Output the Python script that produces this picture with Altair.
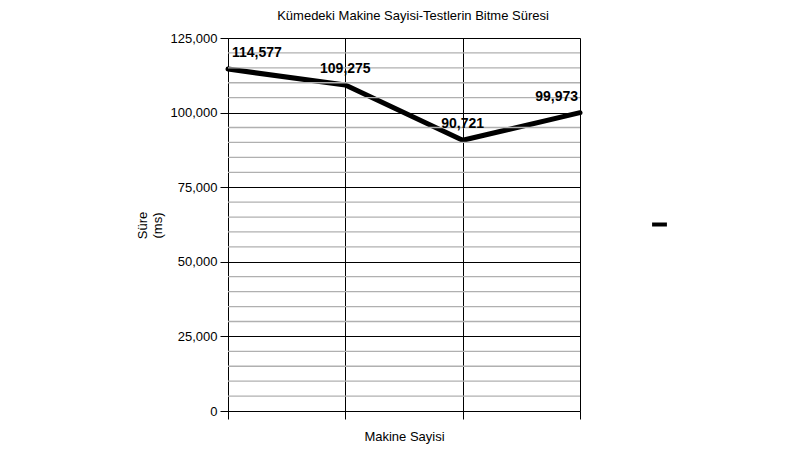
import altair as alt
import pandas as pd

categories = ["1", "2", "3", "4"]
durations = [114577, 109275, 90721, 99973]
label_text = ["114,577", "109,275", "90,721", "99,973"]
major_ticks = [0, 25000, 50000, 75000, 100000, 125000]
minor_ticks = [v for v in range(5000, 125000, 5000) if v % 25000 != 0]

df = pd.DataFrame({"cat": categories, "dur": durations, "lbl": label_text,
                   "idx": list(range(len(categories))), "series": [""] * len(categories)})
minor_df = pd.DataFrame({"dur": minor_ticks})

FONT = "Liberation Sans"
yscale = alt.Scale(domain=[0, 125000], nice=False, zero=True)
xscale = alt.Scale(type="point", padding=0)

x_axis = alt.Axis(title="Makine Sayisi", labels=False, ticks=True, tickSize=8,
                  tickColor="black", domainColor="black", grid=True, gridColor="black",
                  gridWidth=1, titleFontSize=13, titleFont=FONT, titleFontWeight="normal",
                  titleColor="black", titlePadding=11)
y_axis = alt.Axis(title=["Süre", "(ms)"], values=major_ticks, format=",.0f",
                  tickSize=8, tickColor="black", domainColor="black",
                  grid=True, gridColor="black", gridWidth=1,
                  labelFontSize=13, labelFont=FONT, labelColor="black", labelPadding=3,
                  titleFontSize=13, titleFont=FONT, titleFontWeight="normal",
                  titleColor="black", titleAngle=-90, titleAlign="center",
                  titleBaseline="middle", titleX=-86, titleY=187)

x_enc = alt.X("cat:N", sort=categories, scale=xscale, axis=x_axis)
y_enc = alt.Y("dur:Q", scale=yscale, axis=y_axis)

line = alt.Chart(df).mark_line(strokeWidth=5, strokeCap="round", strokeJoin="round").encode(
    x=x_enc, y=y_enc,
    color=alt.Color("series:N", scale=alt.Scale(range=["black"]),
                    legend=alt.Legend(title=None, orient="none", legendX=422, legendY=177,
                                      symbolType="stroke", symbolStrokeWidth=4, symbolSize=220,
                                      labelExpr="''", symbolStrokeColor="black"))
)

minor = alt.Chart(minor_df).mark_rule(color="#b0b0b0", strokeWidth=1.3).encode(y=y_enc)

def labels(cond, align, dx):
    return alt.Chart(df).transform_filter(cond).mark_text(
        font=FONT, fontSize=14, fontWeight="bold", color="black", align=align, dx=dx, dy=-16
    ).encode(x=x_enc, y=y_enc, text="lbl:N")

lab_first = labels("datum.idx == 0", "left", 4)
lab_mid = labels("datum.idx == 1 || datum.idx == 2", "center", 0)
lab_last = labels("datum.idx == 3", "right", -2)

chart = alt.layer(line, minor, lab_first, lab_mid, lab_last).properties(
    width=352, height=373,
    autosize=alt.AutoSizeParams(type="none"),
    padding={"left": 220, "top": 30, "right": 212, "bottom": 39},
    title=alt.TitleParams("Kümedeki Makine Sayisi-Testlerin Bitme Süresi", font=FONT,
                          fontSize=13, fontWeight="normal", color="black", anchor="middle",
                          dx=9, offset=9)
).configure_view(stroke=None).configure(background="white")

chart.save("out.html", embed_options={"renderer": "svg", "actions": False})
